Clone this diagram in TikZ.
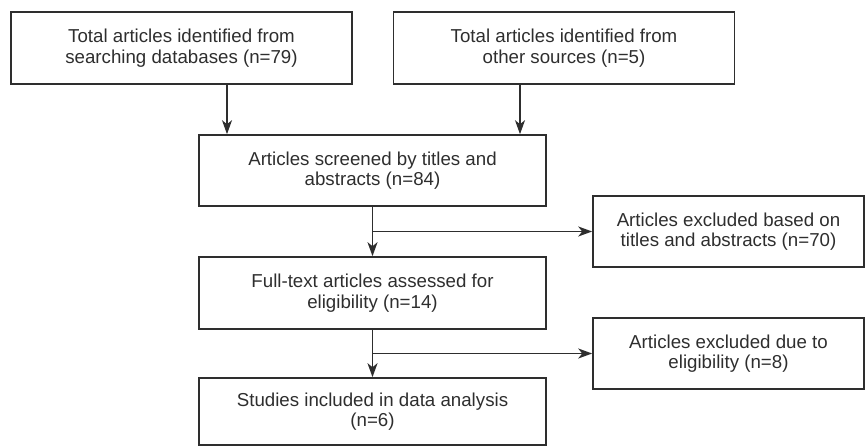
\documentclass[tikz,border=0pt]{standalone}
\usepackage{fontspec}
\setmainfont{Liberation Sans}
\usetikzlibrary{arrows.meta}
\definecolor{ink}{HTML}{2E2E2E}
\begin{document}
\begin{tikzpicture}[x=1pt,y=-1pt,
  box/.style={draw=ink, line width=1.6pt, inner sep=0pt, align=center,
    text=ink, font=\fontsize{18.7}{20.5}\selectfont},
  wbig/.style={minimum width=341pt},
  wsmall/.style={minimum width=271pt},
  arr/.style={draw=ink, line width=1.6pt, -{Stealth[length=14pt,width=10pt,inset=4pt]}}]
\useasboundingbox (0,0) rectangle (865,446);
\node[box, wbig, minimum height=72pt] (A) at (181.5,48) {Total articles identified from\\searching databases (n=79)};
\node[box, wbig, minimum height=72pt] (B) at (564,48) {Total articles identified from\\other sources (n=5)};
\node[box, minimum width=347pt, minimum height=71pt] (C) at (372.5,170.5) {Articles screened by titles and\\abstracts (n=84)};
\node[box, minimum width=347pt, minimum height=72pt] (D) at (372.5,293) {Full-text articles assessed for\\eligibility (n=14)};
\node[box, minimum width=347pt, minimum height=67pt] (F) at (372.5,411.5) {Studies included in data analysis\\(n=6)};
\node[box, wsmall, minimum height=71pt] (E) at (728.5,231.5) {Articles excluded based on\\titles and abstracts (n=70)};
\node[box, wsmall, minimum height=71pt] (G) at (728.5,353.5) {Articles excluded due to\\eligibility (n=8)};
\draw[arr] ([xshift=45.5pt]A.south) -- ([xshift=-145.5pt]C.north);
\draw[arr] ([xshift=-44pt]B.south) -- ([xshift=147.5pt]C.north);
\draw[arr] (C.south) -- (D.north);
\draw[arr] (C.south |- E.west) -- (E.west);
\draw[arr] (D.south) -- (F.north);
\draw[arr] (D.south |- G.west) -- (G.west);
\end{tikzpicture}
\end{document}
